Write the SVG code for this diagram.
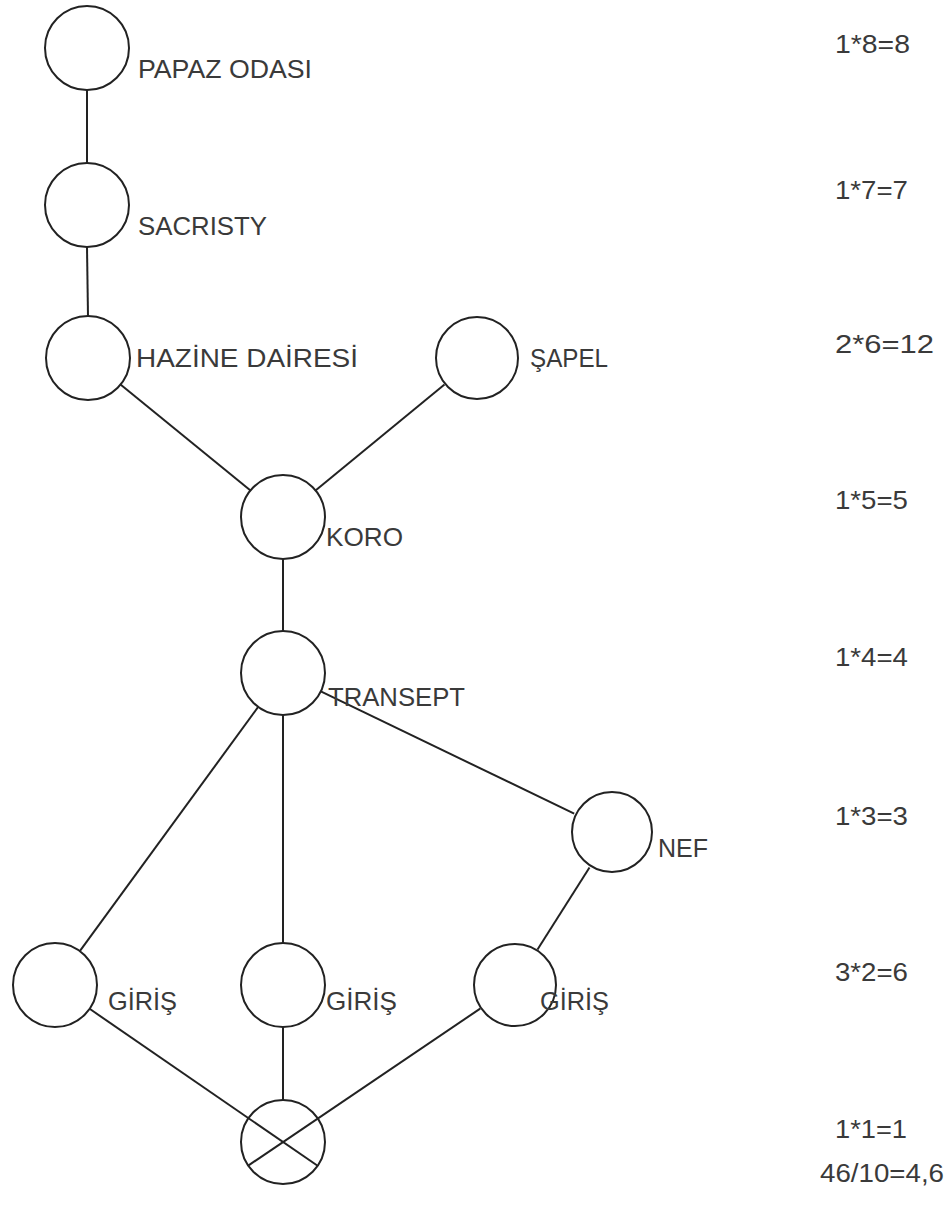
<svg xmlns="http://www.w3.org/2000/svg" width="944" height="1206" viewBox="0 0 944 1206">
  <style>
    .node { fill: none; stroke: #222; stroke-width: 2; }
    .edge { stroke: #222; stroke-width: 2; fill: none; }
    .lbl { font-family: "Liberation Sans", Arial, sans-serif; font-size: 25px; fill: #3a3a3a; }
    .calc { font-family: "Liberation Sans", Arial, sans-serif; font-size: 25px; fill: #3a3a3a; }
  </style>
  <rect width="944" height="1206" fill="#ffffff"/>

  <!-- connectors -->
  <g id="edges" class="edge">
    <line x1="87" y1="90" x2="87" y2="163"/>
    <line x1="87" y1="247" x2="88" y2="316"/>
    <line x1="120.5" y1="384.5" x2="250.5" y2="490.5"/>
    <line x1="444.5" y1="384.6" x2="315.5" y2="490.4"/>
    <line x1="283" y1="559" x2="283" y2="631"/>
    <line x1="258.2" y1="706.9" x2="79.8" y2="951.1"/>
    <line x1="283" y1="715" x2="283" y2="943"/>
    <line x1="320.8" y1="691.3" x2="574.2" y2="813.7"/>
    <line x1="589.5" y1="867.5" x2="537.5" y2="949.5"/>
    <line x1="283" y1="1027" x2="283" y2="1100"/>
    <line x1="89.6" y1="1008.8" x2="317.6" y2="1165.8"/>
    <line x1="480.2" y1="1008.6" x2="248.2" y2="1165.6"/>
  </g>

  <!-- rooms -->
  <g id="papaz-odasi">
    <circle class="node" cx="87" cy="48" r="42"/>
    <text class="lbl" x="138" y="78" textLength="174" lengthAdjust="spacingAndGlyphs">PAPAZ ODASI</text>
  </g>
  <g id="sacristy">
    <circle class="node" cx="87" cy="205" r="42"/>
    <text class="lbl" x="138" y="235" textLength="129" lengthAdjust="spacingAndGlyphs">SACRISTY</text>
  </g>
  <g id="hazine-dairesi">
    <circle class="node" cx="88" cy="358" r="42"/>
    <text class="lbl" x="136" y="367" textLength="222" lengthAdjust="spacingAndGlyphs">HAZİNE DAİRESİ</text>
  </g>
  <g id="sapel">
    <circle class="node" cx="477" cy="358" r="41"/>
    <text class="lbl" x="530" y="367" textLength="78" lengthAdjust="spacingAndGlyphs">ŞAPEL</text>
  </g>
  <g id="koro">
    <circle class="node" cx="283" cy="517" r="42"/>
    <text class="lbl" x="326" y="546" textLength="77" lengthAdjust="spacingAndGlyphs">KORO</text>
  </g>
  <g id="transept">
    <circle class="node" cx="283" cy="673" r="42"/>
    <text class="lbl" x="328" y="706" textLength="137" lengthAdjust="spacingAndGlyphs">TRANSEPT</text>
  </g>
  <g id="nef">
    <circle class="node" cx="612" cy="832" r="40"/>
    <text class="lbl" x="658" y="857" textLength="50" lengthAdjust="spacingAndGlyphs">NEF</text>
  </g>
  <g id="giris-1">
    <circle class="node" cx="55" cy="985" r="42"/>
    <text class="lbl" x="108" y="1010" textLength="69" lengthAdjust="spacingAndGlyphs">GİRİŞ</text>
  </g>
  <g id="giris-2">
    <circle class="node" cx="283" cy="985" r="42"/>
    <text class="lbl" x="326" y="1010" textLength="71" lengthAdjust="spacingAndGlyphs">GİRİŞ</text>
  </g>
  <g id="giris-3">
    <circle class="node" cx="515" cy="985" r="41"/>
    <text class="lbl" x="540" y="1010" textLength="69" lengthAdjust="spacingAndGlyphs">GİRİŞ</text>
  </g>
  <g id="outside">
    <circle class="node" cx="283" cy="1142" r="42"/>
  </g>

  <!-- depth totals per level -->
  <g id="totals" class="calc">
    <text x="835" y="53" textLength="75" lengthAdjust="spacingAndGlyphs">1*8=8</text>
    <text x="835" y="199" textLength="73" lengthAdjust="spacingAndGlyphs">1*7=7</text>
    <text x="835" y="353" textLength="99" lengthAdjust="spacingAndGlyphs">2*6=12</text>
    <text x="835" y="509" textLength="73" lengthAdjust="spacingAndGlyphs">1*5=5</text>
    <text x="835" y="666" textLength="73" lengthAdjust="spacingAndGlyphs">1*4=4</text>
    <text x="835" y="825" textLength="73" lengthAdjust="spacingAndGlyphs">1*3=3</text>
    <text x="835" y="981" textLength="73" lengthAdjust="spacingAndGlyphs">3*2=6</text>
    <text x="835" y="1138" textLength="72" lengthAdjust="spacingAndGlyphs">1*1=1</text>
    <text x="820" y="1182" textLength="124" lengthAdjust="spacingAndGlyphs">46/10=4,6</text>
  </g>
</svg>
